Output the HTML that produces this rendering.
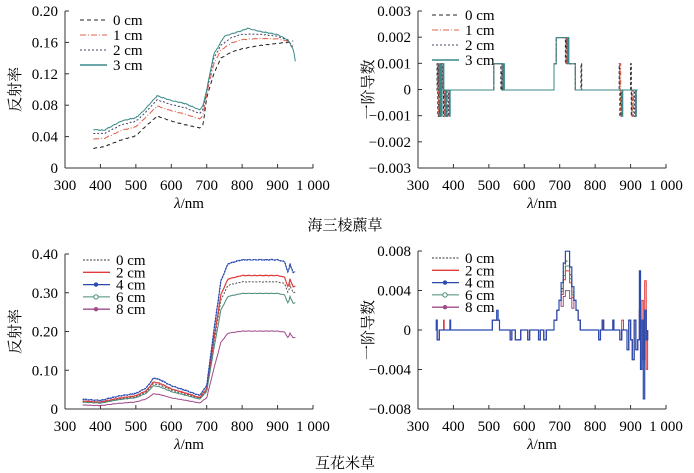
<!DOCTYPE html>
<html><head><meta charset="utf-8"><style>
body{margin:0;background:#fff;}
svg{display:block;font-family:"Liberation Serif","Noto Serif CJK SC",serif;}
</style></head><body>
<svg id="s" width="694" height="473" xmlns="http://www.w3.org/2000/svg"></svg>
<script>
const S=document.getElementById('s');let h='';
function ax(X0,Y0,Y1,x1000,yt,ylabel,yfmt,labx){
 h+=`<line x1="${X0}" y1="${Y0}" x2="${X0}" y2="${Y1}" stroke="#333" stroke-width="1"/>`;
 const axY=yt.axisY;
 h+=`<line x1="${X0}" y1="${axY}" x2="${x1000}" y2="${axY}" stroke="#333" stroke-width="1"/>`;
 for(let i=0;i<=7;i++){const x=X0+(x1000-X0)*i/7;h+=`<line x1="${x}" y1="${axY}" x2="${x}" y2="${axY-4}" stroke="#333"/>`;
  h+=`<text x="${x}" y="${Y1+22}" font-size="15" text-anchor="middle">${i==7?'1 000':300+i*100}</text>`;}
 yt.vals.forEach((v,i)=>{const y=Y0+(Y1-Y0)*i/(yt.vals.length-1);h+=`<line x1="${X0}" y1="${y}" x2="${X0+4}" y2="${y}" stroke="#333"/>`;
  h+=`<text x="${X0-7}" y="${y+5}" font-size="15" text-anchor="end">${v}</text>`;});
 h+=`<text x="${(X0+x1000)/2}" y="${Y1+40}" font-size="15" text-anchor="middle"><tspan font-style="italic">λ</tspan>/nm</text>`;
 h+=`<text transform="translate(${labx},${(Y0+Y1)/2}) rotate(-90)" font-size="15" text-anchor="middle" font-family="Noto Serif CJK SC,serif">${ylabel}</text>`;
}
function interp(pts,x){for(let i=0;i<pts.length-1;i++){if(x>=pts[i][0]&&x<=pts[i+1][0]){const t=(x-pts[i][0])/(pts[i+1][0]-pts[i][0]);return pts[i][1]+t*(pts[i+1][1]-pts[i][1]);}}return pts[pts.length-1][1];}
function curve(pts,f,X0,x1000,yz,ys,st,noise){let d='';for(let x=pts[0][0];x<=pts[pts.length-1][0];x+=3){let v=f(interp(pts,x),x);if(noise)v+=(Math.sin(x*1.7)*0.5+Math.sin(x*3.1)*0.5)*noise;const px=X0+(x-300)*(x1000-X0)/700,py=yz-v*ys;d+=(d?'L':'M')+px.toFixed(1)+','+py.toFixed(1);}h+=`<path d="${d}" fill="none" ${st}/>`;}
ax(65,11,168,313,{axisY:168,vals:['0.20','0.16','0.12','0.08','0.04','0']},'反射率',0,20);
const a0=[[380,.025],[410,.027],[460,.036],[500,.041],[520,.05],[560,.066],[600,.06],[640,.055],[680,.051],[690,.055],[700,.09],[720,.12],[740,.14],[770,.148],[800,.152],[850,.156],[900,.159],[930,.16],[945,.162]];
const a3=[[380,.049],[410,.048],[460,.06],[500,.064],[520,.072],[560,.092],[600,.086],[640,.082],[680,.074],[690,.08],[700,.1],[720,.145],[750,.168],[800,.175],[815,.178],[850,.174],[900,.17],[930,.163],[945,.15],[950,.136]];
const ysA=157/0.2;
function mix(t){return a0.map(p=>[p[0],p[1]+t*(interp(a3,p[0])-p[1])]);}
curve(a0,v=>v,65,313,168,ysA,'stroke="#222" stroke-dasharray="4,3" stroke-width="1"',0.0005);
curve(mix(0.5),v=>v,65,313,168,ysA,'stroke="#e0604a" stroke-dasharray="6,2,1,2" stroke-width="1"',0.0005);
curve(mix(0.8),v=>v,65,313,168,ysA,'stroke="#446" stroke-dasharray="2,2" stroke-width="1"',0.0005);
curve(a3,v=>v,65,313,168,ysA,'stroke="#3a8a8a" stroke-width="1"',0.0007);
function leg(x,y,items,dy){items.forEach((it,i)=>{const yy=y+i*dy;h+=`<line x1="${x}" y1="${yy}" x2="${x+27}" y2="${yy}" ${it[1]}/>`;if(it[2])h+=`<circle cx="${x+13}" cy="${yy}" r="2.2" ${it[2]}/>`;h+=`<text x="${x+33}" y="${yy+5}" font-size="15">${it[0]}</text>`;});}
const Lt=[['0 cm','stroke="#222" stroke-dasharray="4,3"'],['1 cm','stroke="#e0604a" stroke-dasharray="6,2,1,2"'],['2 cm','stroke="#446" stroke-dasharray="2,2"'],['3 cm','stroke="#3a8a8a" stroke-width="1.5"']];
leg(80,20,Lt,15);leg(432,15,Lt,15);
ax(418,11,168,666,{axisY:168,vals:['0.003','0.002','0.001','0','−0.001','−0.002','−0.003']},'一阶导数',0,373);
const zT=90,uT=26.2;function X(x,X0,x1){return X0+(x-300)*(x1-X0)/700;}
function stepPath(seg,X0,x1,z,u,st){let d='';seg.forEach((p,i)=>{const px=X(p[0],X0,x1).toFixed(1),py=(z-p[1]*u).toFixed(1);if(i==0)d+='M'+px+','+py;else{const pp=(z-seg[i-1][1]*u).toFixed(1);d+='L'+px+','+pp+'L'+px+','+py;}});h+=`<path d="${d}" fill="none" ${st}/>`;}
const sts=['stroke="#222" stroke-dasharray="3,2"','stroke="#e0604a" stroke-dasharray="4,2,1,2"','stroke="#446" stroke-dasharray="2,2"','stroke="#3a8a8a"'];
sts.forEach((st,k)=>{const o=k*2;const seg=[[352+o,0],[354+o,1],[356+o,-1],[358+o,1],[360+o,-1],[362+o,0],[365+o,1],[367+o,0],[372+o,-1],[374+o,0],[380+k*3,-1],[382+k*3,0],[512,0],[514,1],[532+o,1],[534+o,0],[536+o,1],[538+o,0],[540,0],[682,0],[684,1],[688,1],[690,2],[714+o,2],[716+o,1],[718+o,2],[720+o,1],[742,1],[744,0],[758,0],[760,k==0?1:0],[762,0],[866+o,0],[868+o,k<2?1:0],[870+o,-1],[872+o,0],[900+o*2,k==0?1:0],[902+o*2,-1],[904+o*2,0],[912,0],[914,-1],[916,0],[920,0]];stepPath(seg,418,666,zT,uT,st+' stroke-width="1"');});
ax(65,254,409,313,{axisY:409,vals:['0.40','0.30','0.20','0.10','0']},'反射率',0,20);
const b4=[[350,.025],[400,.022],[450,.033],[500,.04],[530,.055],[550,.08],[570,.075],[600,.06],[650,.045],[680,.035],[700,.06],[720,.2],[740,.33],[760,.375],[800,.385],[900,.385],[920,.38],[930,.35],[935,.375],[945,.35],[950,.355]];
const ysB=155/0.4;
function scl(f,off){return b4.map(p=>[p[0],p[1]*f+off]);}
curve(scl(0.86,-.003),v=>v,65,313,409,ysB,'stroke="#555" stroke-dasharray="2,1.5" stroke-width="1"',0.001);
curve(scl(0.9,-.002),v=>v,65,313,409,ysB,'stroke="#e03a3a" stroke-width="1.2"',0.001);
curve(scl(0.78,-.002),v=>v,65,313,409,ysB,'stroke="#4a8a7a" stroke-width="1"',0.0008);
curve(scl(0.53,-.003),v=>v,65,313,409,ysB,'stroke="#a04a8a" stroke-width="1"',0.0008);
curve(b4,v=>v,65,313,409,ysB,'stroke="#2a4ab0" stroke-width="1.4" stroke-dasharray="1.5,1.5"',0.0015);
curve(b4,v=>v,65,313,409,ysB,'stroke="#2a4ab0" stroke-width="0.8"',0.0015);
const Lb=[['0 cm','stroke="#333" stroke-dasharray="2,1.5"'],['2 cm','stroke="#e03a3a" stroke-width="1.3"'],['4 cm','stroke="#2a4ab0" stroke-width="1.3"','fill="#2a4ab0"'],['6 cm','stroke="#4a8a7a"','fill="#fff" stroke="#4a8a7a"'],['8 cm','stroke="#a04a8a" stroke-width="1.3"','fill="#a04a8a"']];
leg(83,260,Lb,12.3);leg(432,258,Lb,12.3);
ax(418,251,409,666,{axisY:409,vals:['0.008','0.004','0','−0.004','−0.008']},'一阶导数',0,373);
const zB=330,uB=9.85;
const bcol=['stroke="#333" stroke-dasharray="2,1.5"','stroke="#e03a3a"','stroke="#4a8a7a"','stroke="#a04a8a"','stroke="#2a4ab0" stroke-width="1.2"'];
const peaks=[7,6,6.5,4,8];
bcol.forEach((st,k)=>{const P=peaks[k];const seg=[[350,0],[352,1],[354,-1],[360,0],[372,k==1?1:0],[374,0],[390,k==4?1:0],[392,0],[508,0],[510,1],[520,1],[522,k==4?2:1],[526,1],[530,0],[560,-1],[565,0],[575,-1],[590,0],[610,-1],[615,0],[640,-1],[645,0],[655,-1],[662,0],[680,0],[684,1],[692,2],[698,3],[704,P*0.6],[710,P*0.85],[716,P],[724,P],[728,P*0.8],[734,P*0.55],[740,3],[746,2],[752,1],[758,0],[810,-1],[815,0],[820,1],[824,0],[850,1],[853,0],[870,-1],[875,k==1?1:0],[880,0],[890,-2],[895,1],[900,-1],[905,-3],[910,1],[915,-2],[920,-1],[925,k==4?6:2],[928,-4],[932,k==1?3:1],[936,k==4?-7:-3],[940,k==1?5:2],[944,k==1?-4:-1],[948,0]];stepPath(seg,418,666,zB,uB,st+' stroke-width="1"');});
h+=`<text x="345" y="230" font-size="15" text-anchor="middle" font-family="Noto Serif CJK SC,serif">海三棱藨草</text>`;
h+=`<text x="345" y="468" font-size="15" text-anchor="middle" font-family="Noto Serif CJK SC,serif">互花米草</text>`;
S.innerHTML=h;
</script>
</body></html>
